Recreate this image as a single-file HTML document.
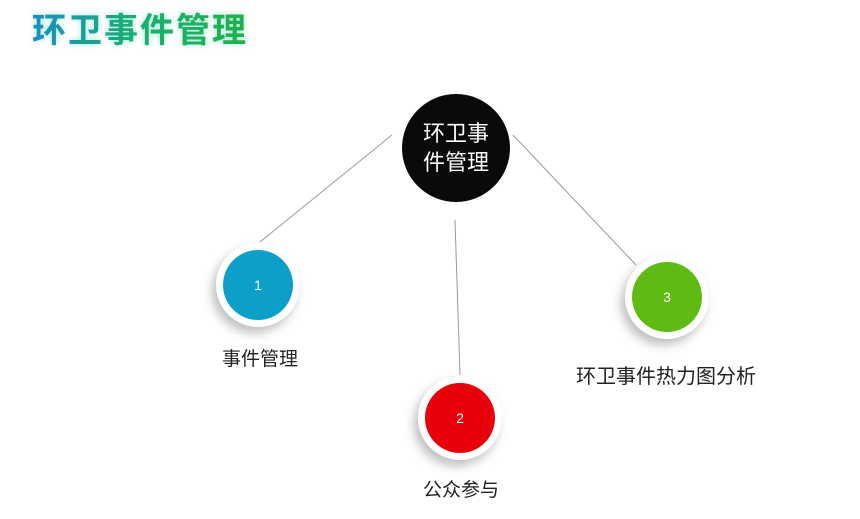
<!DOCTYPE html>
<html><head><meta charset="utf-8"><style>
html,body{margin:0;padding:0;background:#fff;width:860px;height:519px;overflow:hidden;position:relative;font-family:"Liberation Sans","Noto Sans CJK SC",sans-serif}
.t{position:absolute;left:32px;top:3px;font-size:34px;font-weight:bold;letter-spacing:2px;background:linear-gradient(90deg,#1a8fc0,#19b070 50%,#22b04a);-webkit-background-clip:text;background-clip:text;color:transparent;filter:drop-shadow(0 0 3px rgba(60,200,170,.5))}
.c{position:absolute;border-radius:50%;background:#fff;box-shadow:-4px 6px 10px rgba(0,0,0,.25);width:84px;height:84px}
.c div{position:absolute;left:7px;top:7px;width:70px;height:70px;border-radius:50%;color:#fff;font-size:14px;text-align:center;line-height:70px}
.l{position:absolute;font-size:19px;color:#222;white-space:nowrap;transform:translateX(-50%)}
</style></head><body>
<div class="t">环卫事件管理</div>
<svg width="860" height="519" style="position:absolute;left:0;top:0">
<g stroke="#999" stroke-width="1"><line x1="392" y1="135" x2="260" y2="242"/><line x1="455" y1="220" x2="460" y2="375"/><line x1="513" y1="135" x2="636" y2="265"/></g>
<circle cx="456" cy="148" r="54" fill="#0a0a0a"/>
<text x="456" y="141" fill="#fff" font-size="22" text-anchor="middle" font-family="Liberation Sans,Noto Sans CJK SC,sans-serif">环卫事</text>
<text x="456" y="170" fill="#fff" font-size="22" text-anchor="middle" font-family="Liberation Sans,Noto Sans CJK SC,sans-serif">件管理</text>
</svg>
<div class="c" style="left:216px;top:243px"><div style="background:#0ca0c8">1</div></div>
<div class="c" style="left:418px;top:376px"><div style="background:#e8000a">2</div></div>
<div class="c" style="left:625px;top:255px"><div style="background:#5fba14">3</div></div>
<div class="l" style="left:260px;top:344px">事件管理</div>
<div class="l" style="left:461px;top:475px">公众参与</div>
<div class="l" style="left:666px;top:360px;font-size:20px">环卫事件热力图分析</div>
</body></html>
